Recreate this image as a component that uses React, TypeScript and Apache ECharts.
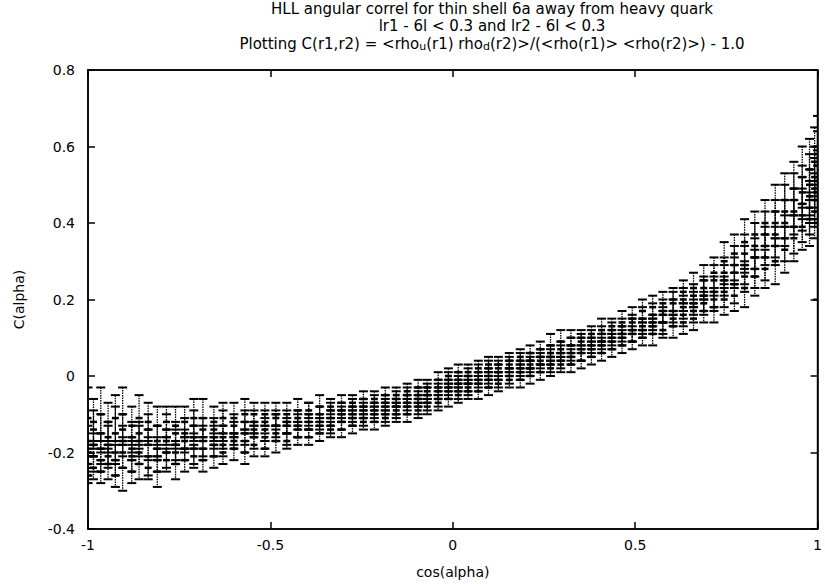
import React, { useEffect, useRef } from 'react';
import * as echarts from 'echarts';

const titleLine1 = 'HLL angular correl for thin shell 6a away from heavy quark';
const titleLine2 = 'lr1 - 6l < 0.3 and lr2 - 6l < 0.3';
const xAxisName = 'cos(alpha)';
const yAxisName = 'C(alpha)';

const cosAlpha = [
  -1.0, -0.985, -0.965, -0.945, -0.925, -0.905, -0.88, -0.86, -0.835, -0.81,
  -0.785, -0.76, -0.735, -0.71, -0.685, -0.655, -0.63, -0.6, -0.57, -0.545,
  -0.515, -0.485, -0.455, -0.425, -0.395, -0.365, -0.335, -0.305, -0.275, -0.245,
  -0.215, -0.185, -0.155, -0.125, -0.095, -0.07, -0.04, -0.012, 0.015, 0.042,
  0.07, 0.098, 0.125, 0.155, 0.185, 0.212, 0.24, 0.268, 0.296, 0.324,
  0.352, 0.38, 0.408, 0.436, 0.464, 0.492, 0.52, 0.548, 0.576, 0.604,
  0.632, 0.66, 0.688, 0.716, 0.744, 0.772, 0.8, 0.828, 0.856, 0.884,
  0.91, 0.935, 0.958, 0.978, 0.992, 1.0,
];

const corrValues = [
  [-0.26, -0.23, -0.2, -0.17, -0.11], [-0.24, -0.21, -0.18, -0.14, -0.12], [-0.25, -0.22, -0.19, -0.15, -0.1],
  [-0.23, -0.21, -0.18, -0.16, -0.12], [-0.26, -0.22, -0.2, -0.15, -0.11], [-0.24, -0.2, -0.17, -0.14, -0.1],
  [-0.25, -0.21, -0.19, -0.16, -0.13], [-0.23, -0.2, -0.17, -0.15, -0.11], [-0.24, -0.21, -0.18, -0.14, -0.12],
  [-0.25, -0.22, -0.19, -0.17, -0.13], [-0.22, -0.2, -0.17, -0.14, -0.12], [-0.23, -0.2, -0.18, -0.15, -0.13],
  [-0.22, -0.19, -0.17, -0.15, -0.12], [-0.21, -0.19, -0.16, -0.13, -0.11], [-0.22, -0.19, -0.17, -0.14, -0.11],
  [-0.21, -0.18, -0.16, -0.14, -0.12], [-0.2, -0.18, -0.16, -0.13, -0.11], [-0.19, -0.17, -0.15, -0.13, -0.11],
  [-0.2, -0.17, -0.15, -0.12, -0.1], [-0.18, -0.16, -0.14, -0.12, -0.1], [-0.19, -0.16, -0.14, -0.12, -0.1],
  [-0.17, -0.15, -0.13, -0.11, -0.1], [-0.17, -0.15, -0.13, -0.12, -0.1], [-0.16, -0.14, -0.13, -0.11, -0.09],
  [-0.16, -0.14, -0.12, -0.1, -0.09], [-0.15, -0.13, -0.12, -0.1, -0.08], [-0.14, -0.13, -0.11, -0.09, -0.08],
  [-0.14, -0.12, -0.1, -0.09, -0.07], [-0.13, -0.11, -0.1, -0.08, -0.07], [-0.12, -0.11, -0.09, -0.08, -0.06],
  [-0.12, -0.1, -0.09, -0.07, -0.06], [-0.11, -0.1, -0.08, -0.07, -0.05], [-0.1, -0.09, -0.08, -0.06, -0.05],
  [-0.1, -0.08, -0.07, -0.05, -0.04], [-0.09, -0.08, -0.06, -0.05, -0.03], [-0.08, -0.07, -0.05, -0.04, -0.03],
  [-0.07, -0.06, -0.04, -0.03, -0.01], [-0.06, -0.04, -0.03, -0.01, 0.0], [-0.05, -0.04, -0.02, -0.01, 0.01],
  [-0.04, -0.03, -0.02, 0.0, 0.01], [-0.04, -0.02, -0.01, 0.01, 0.02], [-0.03, -0.01, 0.0, 0.02, 0.03],
  [-0.02, -0.01, 0.01, 0.02, 0.03], [-0.01, 0.0, 0.02, 0.03, 0.04], [-0.01, 0.01, 0.02, 0.04, 0.05],
  [0.0, 0.02, 0.03, 0.04, 0.06], [0.01, 0.03, 0.04, 0.05, 0.07], [0.02, 0.03, 0.05, 0.06, 0.08],
  [0.03, 0.04, 0.06, 0.07, 0.09], [0.03, 0.05, 0.06, 0.08, 0.1], [0.04, 0.06, 0.07, 0.09, 0.1],
  [0.05, 0.07, 0.08, 0.1, 0.11], [0.06, 0.08, 0.09, 0.11, 0.12], [0.07, 0.09, 0.1, 0.12, 0.13],
  [0.08, 0.1, 0.11, 0.13, 0.14], [0.09, 0.11, 0.12, 0.14, 0.15], [0.1, 0.12, 0.13, 0.15, 0.17],
  [0.11, 0.13, 0.14, 0.16, 0.18], [0.12, 0.14, 0.16, 0.17, 0.19], [0.13, 0.15, 0.17, 0.19, 0.2],
  [0.14, 0.16, 0.18, 0.2, 0.22], [0.15, 0.17, 0.19, 0.21, 0.23], [0.17, 0.19, 0.21, 0.23, 0.25],
  [0.18, 0.2, 0.22, 0.25, 0.27], [0.2, 0.22, 0.25, 0.27, 0.3], [0.21, 0.24, 0.27, 0.29, 0.32],
  [0.23, 0.26, 0.29, 0.32, 0.35], [0.26, 0.28, 0.31, 0.34, 0.37], [0.28, 0.31, 0.34, 0.37, 0.4],
  [0.3, 0.34, 0.37, 0.4, 0.43], [0.33, 0.36, 0.4, 0.43, 0.46], [0.36, 0.39, 0.43, 0.46, 0.49],
  [0.39, 0.42, 0.45, 0.48, 0.52], [0.41, 0.44, 0.47, 0.5, 0.54], [0.43, 0.46, 0.49, 0.52, 0.56],
  [0.4, 0.48, 0.51, 0.55, 0.58],
];

const corrErrors = [
  [0.02, 0.03, 0.03, 0.04, 0.08], [0.03, 0.04, 0.03, 0.05, 0.06], [0.03, 0.03, 0.04, 0.05, 0.07],
  [0.04, 0.03, 0.05, 0.04, 0.05], [0.03, 0.04, 0.03, 0.07, 0.06], [0.06, 0.04, 0.04, 0.04, 0.07],
  [0.03, 0.04, 0.03, 0.04, 0.05], [0.04, 0.03, 0.04, 0.03, 0.06], [0.03, 0.05, 0.04, 0.04, 0.05],
  [0.04, 0.03, 0.03, 0.04, 0.05], [0.03, 0.04, 0.03, 0.04, 0.04], [0.04, 0.03, 0.04, 0.03, 0.05],
  [0.03, 0.03, 0.03, 0.04, 0.04], [0.03, 0.04, 0.03, 0.04, 0.05], [0.03, 0.03, 0.04, 0.03, 0.05],
  [0.03, 0.03, 0.03, 0.03, 0.04], [0.03, 0.03, 0.03, 0.04, 0.04], [0.03, 0.02, 0.03, 0.03, 0.04],
  [0.03, 0.03, 0.03, 0.03, 0.04], [0.03, 0.03, 0.02, 0.03, 0.03], [0.02, 0.03, 0.03, 0.03, 0.03],
  [0.03, 0.02, 0.03, 0.02, 0.03], [0.02, 0.03, 0.02, 0.03, 0.03], [0.02, 0.02, 0.03, 0.02, 0.03],
  [0.02, 0.02, 0.02, 0.03, 0.02], [0.02, 0.02, 0.02, 0.02, 0.03], [0.02, 0.02, 0.02, 0.02, 0.02],
  [0.02, 0.02, 0.02, 0.02, 0.02], [0.02, 0.02, 0.02, 0.02, 0.02], [0.02, 0.02, 0.02, 0.02, 0.02],
  [0.02, 0.02, 0.02, 0.02, 0.02], [0.02, 0.02, 0.02, 0.02, 0.02], [0.02, 0.02, 0.02, 0.02, 0.02],
  [0.02, 0.02, 0.02, 0.02, 0.02], [0.02, 0.02, 0.02, 0.02, 0.02], [0.02, 0.02, 0.02, 0.02, 0.02],
  [0.02, 0.02, 0.02, 0.02, 0.02], [0.02, 0.02, 0.02, 0.02, 0.02], [0.02, 0.02, 0.02, 0.02, 0.02],
  [0.02, 0.02, 0.02, 0.02, 0.02], [0.02, 0.02, 0.02, 0.02, 0.02], [0.02, 0.02, 0.02, 0.02, 0.02],
  [0.02, 0.02, 0.02, 0.02, 0.02], [0.02, 0.02, 0.02, 0.02, 0.02], [0.02, 0.02, 0.02, 0.02, 0.02],
  [0.02, 0.02, 0.02, 0.02, 0.02], [0.02, 0.02, 0.02, 0.02, 0.02], [0.02, 0.02, 0.02, 0.02, 0.03],
  [0.02, 0.02, 0.02, 0.02, 0.03], [0.02, 0.02, 0.02, 0.02, 0.02], [0.02, 0.02, 0.03, 0.02, 0.02],
  [0.02, 0.02, 0.02, 0.02, 0.02], [0.02, 0.02, 0.02, 0.02, 0.03], [0.02, 0.02, 0.02, 0.02, 0.02],
  [0.02, 0.02, 0.02, 0.02, 0.03], [0.02, 0.02, 0.03, 0.02, 0.03], [0.02, 0.02, 0.02, 0.03, 0.03],
  [0.03, 0.02, 0.02, 0.03, 0.03], [0.02, 0.03, 0.02, 0.03, 0.03], [0.03, 0.02, 0.03, 0.03, 0.03],
  [0.03, 0.03, 0.03, 0.03, 0.03], [0.03, 0.03, 0.03, 0.03, 0.04], [0.03, 0.03, 0.04, 0.03, 0.04],
  [0.04, 0.03, 0.04, 0.04, 0.04], [0.04, 0.04, 0.04, 0.04, 0.05], [0.04, 0.05, 0.04, 0.05, 0.05],
  [0.05, 0.04, 0.05, 0.05, 0.06], [0.05, 0.05, 0.05, 0.06, 0.06], [0.05, 0.06, 0.05, 0.06, 0.06],
  [0.06, 0.05, 0.06, 0.06, 0.07], [0.06, 0.06, 0.06, 0.07, 0.07], [0.06, 0.07, 0.06, 0.07, 0.07],
  [0.06, 0.07, 0.07, 0.07, 0.08], [0.07, 0.07, 0.07, 0.08, 0.08], [0.07, 0.07, 0.08, 0.08, 0.09],
  [0.2, 0.07, 0.08, 0.09, 0.1],
];

const FONT = '"DejaVu Sans", "Liberation Sans", Arial, sans-serif';

export default function App() {
  const ref = useRef<HTMLDivElement>(null);
  useEffect(() => {
    const chart = echarts.init(ref.current!, null, { renderer: 'svg' });
    const data: number[][] = [];
    cosAlpha.forEach((x, i) => {
      corrValues[i].forEach((y, j) => data.push([x, y, corrErrors[i][j]]));
    });
    const axisCommon = {
      axisLine: { show: true, onZero: false, lineStyle: { color: '#000', width: 1.5 } },
      axisTick: { show: true, inside: true, length: 7, lineStyle: { color: '#000', width: 1.5 } },
      splitLine: { show: false },
    };
    chart.setOption({
      animation: false,
      backgroundColor: '#fff',
      grid: { left: 88, right: 4, top: 70, bottom: 54, show: true, borderColor: '#000', borderWidth: 1.5 },
      xAxis: [
        {
          type: 'value', min: -1, max: 1, interval: 0.5, position: 'bottom',
          ...axisCommon,
          axisLabel: { color: '#000', fontSize: 14, fontFamily: FONT, margin: 9 },
          name: xAxisName, nameLocation: 'middle', nameGap: 36,
          nameTextStyle: { color: '#000', fontSize: 14, fontFamily: FONT },
        },
        {
          type: 'value', min: -1, max: 1, interval: 0.5, position: 'top',
          ...axisCommon, axisLabel: { show: false },
        },
      ],
      yAxis: [
        {
          type: 'value', min: -0.4, max: 0.8, interval: 0.2, position: 'left',
          ...axisCommon,
          axisLabel: { color: '#000', fontSize: 14, fontFamily: FONT, margin: 13 },
          name: yAxisName, nameLocation: 'middle', nameGap: 62, nameRotate: 90,
          nameTextStyle: { color: '#000', fontSize: 14, fontFamily: FONT },
        },
        {
          type: 'value', min: -0.4, max: 0.8, interval: 0.2, position: 'right',
          ...axisCommon, axisLabel: { show: false },
        },
      ],
      graphic: [
        {
          type: 'text', x: 492, y: 9,
          style: { text: titleLine1, fill: '#000', fontSize: 15, lineHeight: 15, fontFamily: FONT, align: 'center', verticalAlign: 'middle' },
        },
        {
          type: 'text', x: 492, y: 26,
          style: { text: titleLine2, fill: '#000', fontSize: 15, lineHeight: 15, fontFamily: FONT, align: 'center', verticalAlign: 'middle' },
        },
        {
          type: 'text', x: 492, y: 44,
          style: {
            text: 'Plotting C(r1,r2) = <rho{sub|u}(r1) rho{sub|d}(r2)>/(<rho(r1)> <rho(r2)>) - 1.0',
            fill: '#000', fontSize: 15, lineHeight: 15, fontFamily: FONT, align: 'center', verticalAlign: 'middle',
            rich: { sub: { fontSize: 11, lineHeight: 11, fontFamily: FONT, fill: '#000', padding: [5, 0, 0, 0] } },
          },
        },
      ],
      series: [
        {
          type: 'custom',
          coordinateSystem: 'cartesian2d',
          clip: true,
          encode: { x: 0, y: 1 },
          data,
          renderItem: (params: any, api: any) => {
            const x = api.value(0);
            const y = api.value(1);
            const e = api.value(2);
            const top = api.coord([x, y + e]);
            const bot = api.coord([x, y - e]);
            const mid = api.coord([x, y]);
            const hw = 4.5;
            const stroke = '#000';
            return {
              type: 'group',
              children: [
                { type: 'line', shape: { x1: top[0], y1: top[1], x2: bot[0], y2: bot[1] }, style: { stroke, lineWidth: 1.3, lineDash: [1.5, 1] } },
                { type: 'line', shape: { x1: top[0] - hw, y1: top[1], x2: top[0] + hw, y2: top[1] }, style: { stroke, lineWidth: 2 } },
                { type: 'line', shape: { x1: bot[0] - hw, y1: bot[1], x2: bot[0] + hw, y2: bot[1] }, style: { stroke, lineWidth: 2 } },
                { type: 'line', shape: { x1: mid[0] - 3.5, y1: mid[1], x2: mid[0] + 3.5, y2: mid[1] }, style: { stroke, lineWidth: 2.5 } },
              ],
            };
          },
        },
      ],
    });
    return () => chart.dispose();
  }, []);
  return <div ref={ref} style={{ position: 'fixed', left: 0, top: 0, width: 825, height: 584 }} />;
}
